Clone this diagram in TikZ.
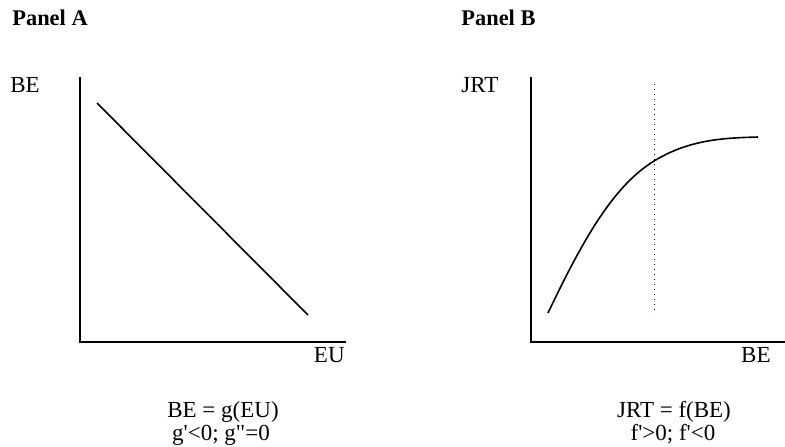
\documentclass[tikz,border=0pt]{standalone}
\usepackage{fontspec}
\setmainfont{Liberation Serif}
\usetikzlibrary{positioning,calc}

\begin{document}
\begin{tikzpicture}[x=0.5pt,y=-0.5pt,font=\fontsize{11.5}{13}\selectfont,
	axis/.style={line width=0.75pt},
	curve/.style={line width=0.8pt},
	guide/.style={dotted,line width=0.5pt},
	title/.style={font=\fontsize{11.2}{13}\selectfont\bfseries,anchor=base west,inner sep=0pt},
	lab/.style={inner sep=0pt},
	rel/.style={anchor=base,inner sep=0pt}]
	\useasboundingbox (0,0) rectangle (785,446);
	% panel A
	\node[title] (tA) at (12,25) {Panel A};
	\coordinate (oA) at (80,342);
	\coordinate (yA) at (80,77);
	\coordinate (xA) at (346,342);
	\coordinate (a1) at (97,103);
	\coordinate (a2) at (308,315);
	\node[lab,anchor=base west] (yAl) at (10,92) {BE};
	\node[lab,anchor=base east] (xAl) at (345,362) {EU};
	\draw[axis] (yA) -- (oA) -- (xA);
	\draw[curve] (a1) -- (a2);
	\node[rel] (gA1) at (223,417) {BE = g(EU)};
	\node[rel] (gA2) at (221,440) {g\textquotesingle<0; g\textquotedbl=0};
	% panel B
	\node[title] (tB) at (461,25) {Panel B};
	\coordinate (oB) at (531,342);
	\coordinate (yB) at (531,77);
	\coordinate (xB) at (785,342);
	\coordinate (d1) at (654,84);
	\coordinate (d2) at (654,314);
	\coordinate (b1) at (548,313);
	\coordinate (bm) at (654,161);
	\coordinate (b2) at (758,137);
	\node[lab,anchor=base west] (yBl) at (461,92) {JRT};
	\node[lab,anchor=base east] (xBl) at (771,362) {BE};
	\draw[axis] (yB) -- (oB) -- (xB);
	\draw[guide] (d1) -- (d2);
	\draw[curve] (b1) .. controls (585,235) and (615,185) .. (bm)
		.. controls (690,139) and (725,138) .. (b2);
	\node[rel] (fB1) at (674,417) {JRT = f(BE)};
	\node[rel] (fB2) at (673,440) {f\textquotesingle>0; f\textquotesingle<0};
\end{tikzpicture}
\end{document}
